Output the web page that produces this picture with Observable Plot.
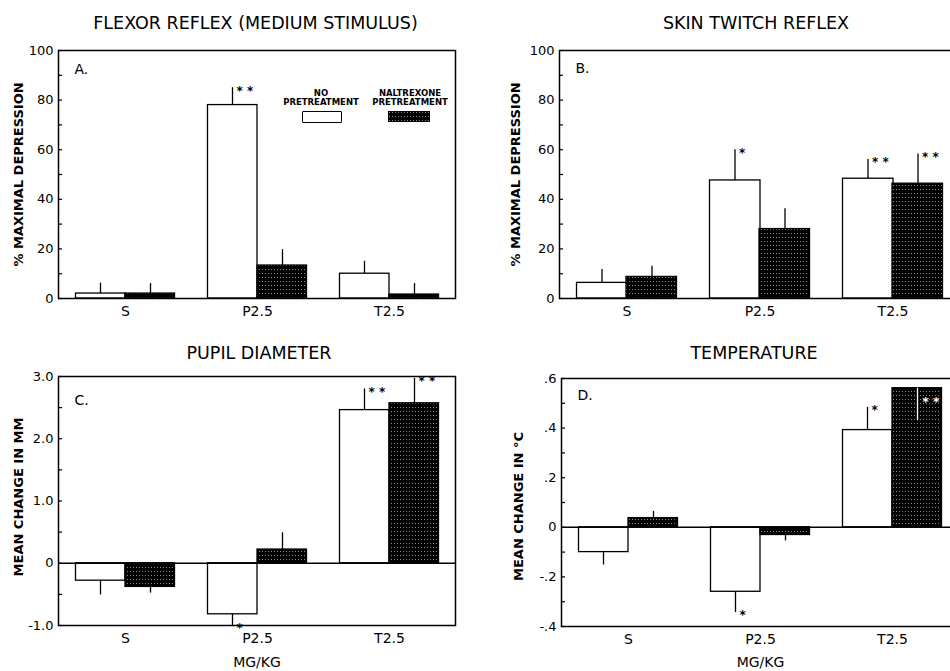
<!DOCTYPE html>
<html><head><meta charset="utf-8">
<script src="https://cdn.jsdelivr.net/npm/d3@7"></script>
<script src="https://cdn.jsdelivr.net/npm/@observablehq/plot@0.6"></script>
<style>
html,body{margin:0;padding:0;background:#fff;overflow:hidden}
#wrap{position:relative;width:950px;height:671px;overflow:hidden;font-family:"DejaVu Sans",sans-serif;background:#fff}
.panel{position:absolute;overflow:visible}
.panel svg{max-width:none !important}
.leg{position:absolute;font-weight:bold;font-size:8.5px;line-height:8.5px;text-align:center;white-space:nowrap;transform:translateX(-50%);font-family:"DejaVu Sans",sans-serif}
.box{position:absolute;box-sizing:border-box}
</style></head><body>
<svg width="0" height="0" style="position:absolute"><defs>
<pattern id="stip" width="3" height="4" patternUnits="userSpaceOnUse">
<rect width="3" height="4" fill="#000"/><rect x="1" y="1" width="1" height="1" fill="#fff" opacity="0.55"/>
</pattern></defs></svg>
<div id="wrap"></div>
<script>
const categories = ["S", "P2.5", "T2.5"];
const treatments = ["NO PRETREATMENT", "NALTREXONE PRETREATMENT"];

// A. Flexor reflex (% maximal depression)
const flexorNo = [2, 78, 10];
const flexorNoErr = [6.2, 85, 15];
const flexorNoSig = ["", "**", ""];
const flexorNal = [2, 13.3, 1.6];
const flexorNalErr = [6, 19.7, 6];
const flexorNalSig = ["", "", ""];

// B. Skin twitch reflex (% maximal depression)
const skinNo = [6.3, 47.6, 48.3];
const skinNoErr = [11.7, 60, 56];
const skinNoSig = ["", "*", "**"];
const skinNal = [8.7, 28, 46.3];
const skinNalErr = [13, 36.2, 58.3];
const skinNalSig = ["", "", "**"];

// C. Pupil diameter (mean change in mm)
const pupilNo = [-0.28, -0.82, 2.46];
const pupilNoErr = [-0.51, -1.0, 2.8];
const pupilNoSig = ["", "*", "**"];
const pupilNal = [-0.38, 0.22, 2.57];
const pupilNalErr = [-0.48, 0.49, 2.97];
const pupilNalSig = ["", "", "**"];

// D. Temperature (mean change in °C)
const tempNo = [-0.1, -0.26, 0.392];
const tempNoErr = [-0.152, -0.344, 0.483];
const tempNoSig = ["", "*", "*"];
const tempNal = [0.037, -0.031, 0.561];
const tempNalErr = [0.064, -0.055, 0.43];
const tempNalSig = ["", "", "**"];

// axis tick labels
const ticksA = [0, 20, 40, 60, 80, 100];
const labelsA = ["0", "20", "40", "60", "80", "100"];
const ticksC = [-1, 0, 1, 2, 3];
const labelsC = ["-1.0", "0", "1.0", "2.0", "3.0"];
const ticksD = [-0.4, -0.2, 0, 0.2, 0.4, 0.6];
const labelsD = ["-.4", "-.2", "0", ".2", ".4", ".6"];

function rows(no, noErr, noSig, nal, nalErr, nalSig) {
  const out = [];
  categories.forEach((c, i) => {
    out.push({cat: c, trt: treatments[0], value: no[i], err: noErr[i], sig: noSig[i]});
    out.push({cat: c, trt: treatments[1], value: nal[i], err: nalErr[i], sig: nalSig[i]});
  });
  out.forEach(d => d.inside = Math.abs(d.err) < Math.abs(d.value));
  return out;
}

const FONT = "DejaVu Sans, sans-serif";

function panel(cfg) {
  const {data, domain, ticks, labels, minor, title, letter, ylabel, xlabel,
    left, top, width, height, mL, mR, mT, mB, titleDx, ylabelDx, letterDy, zero} = cfg;
  const fw = width - mL - mR;
  const noR = data.filter(d => d.trt === treatments[0]);
  const nalR = data.filter(d => d.trt === treatments[1]);
  const star = d => d.sig.split("").join(" ");
  const marks = [
    Plot.barY(noR, {x: "cat", y: "value", fill: "white", stroke: "black", strokeWidth: 1.3, insetLeft: 16.5, insetRight: 66}),
    Plot.barY(nalR, {x: "cat", y: "value", fill: "url(#stip)", stroke: "black", strokeWidth: 1.3, insetLeft: 66, insetRight: 16.5}),
    Plot.ruleX(noR.filter(d => !d.inside), {x: "cat", y1: "value", y2: "err", dx: -25, stroke: "black", strokeWidth: 1.3}),
    Plot.ruleX(nalR.filter(d => !d.inside), {x: "cat", y1: "value", y2: "err", dx: 25, stroke: "black", strokeWidth: 1.3}),
    Plot.ruleX(nalR.filter(d => d.inside), {x: "cat", y1: "value", y2: "err", dx: 25, stroke: "white", strokeWidth: 1.3}),
    Plot.text(noR.filter(d => d.sig && !d.inside), {x: "cat", y: "err", text: star, dx: -21, dy: 3, textAnchor: "start", fontWeight: "bold", fontSize: 12}),
    Plot.text(nalR.filter(d => d.sig && !d.inside), {x: "cat", y: "err", text: star, dx: 29, dy: 3, textAnchor: "start", fontWeight: "bold", fontSize: 12}),
    Plot.text(nalR.filter(d => d.sig && d.inside), {x: "cat", y: "err", text: star, dx: 30, dy: -19, textAnchor: "start", fontWeight: "bold", fontSize: 12, fill: "white"}),
    Plot.tickY(minor, {y: d => d, insetRight: fw - 4, strokeWidth: 1.2}),
    Plot.axisY(ticks, {tickSize: 0, tickPadding: 5, fontSize: 13, tickFormat: d => labels[ticks.indexOf(d)]}),
    Plot.axisX({tickSize: 0, tickPadding: 8, fontSize: 14, label: null}),
    Plot.frame({stroke: "black", strokeWidth: 1.5}),
    Plot.text([title], {frameAnchor: "top", dy: -cfg.titleY, dx: titleDx, fontSize: 17.5, lineAnchor: "middle"}),
    Plot.text([letter], {frameAnchor: "top-left", dx: 16, dy: letterDy, fontSize: 14, lineAnchor: "top", textAnchor: "start"}),
    Plot.text([ylabel], {frameAnchor: "left", dx: -ylabelDx, dy: cfg.ylabelDy || 0, rotate: -90, fontSize: 13, fontWeight: "bold", lineAnchor: "middle", textAnchor: "middle"})
  ];
  if (zero) marks.push(Plot.ruleY([0], {stroke: "black", strokeWidth: 1.5}));
  if (xlabel) marks.push(Plot.text([xlabel], {frameAnchor: "bottom", dy: cfg.xlabelDy, fontSize: 14, lineAnchor: "middle"}));
  const svg = Plot.plot({
    width, height, marginLeft: mL, marginRight: mR, marginTop: mT, marginBottom: mB,
    style: {fontFamily: FONT, fontSize: "13px", color: "black", background: "white", overflow: "visible", maxWidth: "none"},
    x: {type: "band", domain: categories, padding: 0},
    y: {domain},
    marks
  });
  const holder = document.createElement("div");
  holder.className = "panel";
  holder.style.left = left + "px";
  holder.style.top = top + "px";
  holder.style.width = width + "px";
  holder.style.height = height + "px";
  holder.appendChild(svg);
  document.getElementById("wrap").appendChild(holder);
}

panel({data: rows(flexorNo, flexorNoErr, flexorNoSig, flexorNal, flexorNalErr, flexorNalSig),
  domain: [0, 100], ticks: ticksA, labels: labelsA, minor: d3.range(0, 101, 10),
  title: "FLEXOR REFLEX (MEDIUM STIMULUS)", letter: "A.", ylabel: "% MAXIMAL DEPRESSION",
  left: 0, top: 0, width: 475, height: 330, mL: 58, mR: 20, mT: 50, mB: 32,
  titleY: 27, titleDx: -1.5, ylabelDx: 40, letterDy: 14});

panel({data: rows(skinNo, skinNoErr, skinNoSig, skinNal, skinNalErr, skinNalSig),
  domain: [0, 100], ticks: ticksA, labels: labelsA, minor: d3.range(0, 101, 10),
  title: "SKIN TWITCH REFLEX", letter: "B.", ylabel: "% MAXIMAL DEPRESSION",
  left: 475, top: 0, width: 485, height: 330, mL: 84, mR: 1, mT: 50, mB: 32,
  titleY: 27, titleDx: -3.5, ylabelDx: 44, letterDy: 13});

panel({data: rows(pupilNo, pupilNoErr, pupilNoSig, pupilNal, pupilNalErr, pupilNalSig),
  domain: [-1, 3], ticks: ticksC, labels: labelsC, minor: d3.range(-1, 3.01, 0.5),
  title: "PUPIL DIAMETER", letter: "C.", ylabel: "MEAN CHANGE IN MM", xlabel: "MG/KG", xlabelDy: 37, zero: true,
  left: 0, top: 330, width: 475, height: 341, mL: 58, mR: 20, mT: 46, mB: 46,
  titleY: 23, titleDx: 2, ylabelDx: 40, ylabelDy: -4, letterDy: 19});

panel({data: rows(tempNo, tempNoErr, tempNoSig, tempNal, tempNalErr, tempNalSig),
  domain: [-0.4, 0.6], ticks: ticksD, labels: labelsD, minor: d3.range(-4, 7).map(k => k / 10),
  title: "TEMPERATURE", letter: "D.", ylabel: "MEAN CHANGE IN °C", xlabel: "MG/KG", xlabelDy: 36, zero: true,
  left: 475, top: 330, width: 485, height: 341, mL: 86, mR: 1, mT: 48, mB: 45,
  titleY: 25, titleDx: -6.5, ylabelDx: 43, ylabelDy: 4, letterDy: 12});

// legend (panel A)
const wrap = document.getElementById("wrap");
function legText(html, cx, topY) {
  const d = document.createElement("div");
  d.className = "leg";
  d.style.left = cx + "px";
  d.style.top = topY + "px";
  d.innerHTML = html;
  wrap.appendChild(d);
}
legText("NO<br>PRETREATMENT", 321, 89);
legText("NALTREXONE<br>PRETREATMENT", 410, 89);
const b1 = document.createElement("div");
b1.className = "box";
Object.assign(b1.style, {left: "302px", top: "111px", width: "40px", height: "12px", border: "1.5px solid #000", borderRadius: "1px", background: "#fff"});
wrap.appendChild(b1);
const b2 = document.createElementNS("http://www.w3.org/2000/svg", "svg");
b2.setAttribute("width", 42); b2.setAttribute("height", 11);
b2.style.position = "absolute"; b2.style.left = "388px"; b2.style.top = "111px";
b2.innerHTML = '<rect width="42" height="11" fill="url(#stip)"/>';
wrap.appendChild(b2);
</script>
</body></html>
